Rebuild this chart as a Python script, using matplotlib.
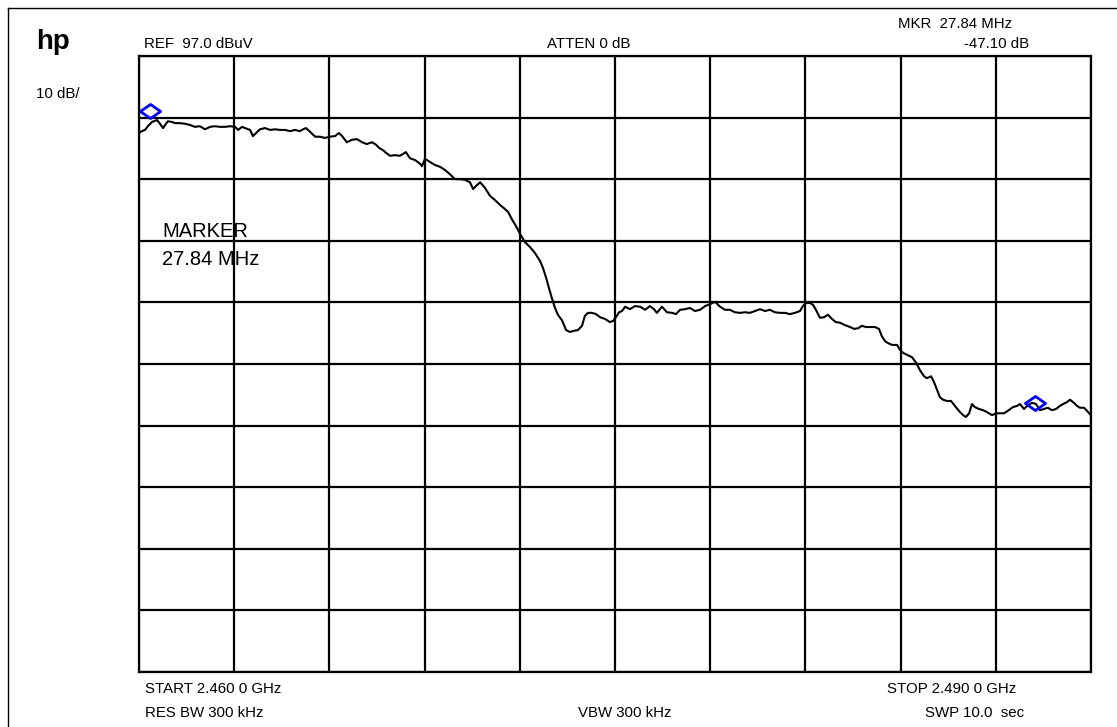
import matplotlib
matplotlib.use("Agg")
import matplotlib.pyplot as plt
from matplotlib.path import Path
from matplotlib.lines import Line2D

# ---- data ----
start_ghz = 2.460
stop_ghz = 2.490
ref_level = 97.0          # dBuV (top of screen)
db_per_div = 10.0

# frequency offset from START (MHz) and trace level (dBuV)
freq_offset_mhz = [
    0.00, 0.09, 0.19, 0.28, 0.41, 0.57, 0.66, 0.76, 0.85, 0.91, 1.04, 1.13, 1.29, 1.45,
    1.61, 1.76, 1.92, 2.08, 2.24, 2.39, 2.55, 2.71, 2.87, 3.03, 3.12, 3.25, 3.34, 3.50,
    3.59, 3.69, 3.81, 3.97, 4.13, 4.29, 4.44, 4.60, 4.76, 4.92, 5.07, 5.17, 5.26, 5.39,
    5.55, 5.70, 5.86, 6.02, 6.18, 6.30, 6.40, 6.55, 6.71, 6.87, 7.03, 7.18, 7.34, 7.47,
    7.56, 7.69, 7.78, 7.91, 8.07, 8.22, 8.32, 8.41, 8.54, 8.70, 8.86, 8.92, 9.01, 9.17,
    9.33, 9.49, 9.64, 9.80, 9.96, 10.12, 10.27, 10.43, 10.53, 10.62, 10.75, 10.90, 11.06,
    11.22, 11.38, 11.50, 11.63, 11.75, 11.88, 12.01, 12.16, 12.32, 12.48, 12.64, 12.73,
    12.83, 12.92, 13.01, 13.11, 13.20, 13.33, 13.46, 13.58, 13.71, 13.83, 13.96, 14.05,
    14.15, 14.28, 14.40, 14.53, 14.69, 14.84, 14.94, 15.03, 15.13, 15.22, 15.32, 15.47,
    15.63, 15.79, 15.95, 16.10, 16.23, 16.32, 16.48, 16.64, 16.80, 16.92, 17.05, 17.21,
    17.36, 17.52, 17.68, 17.84, 17.99, 18.15, 18.31, 18.47, 18.62, 18.78, 18.94, 19.10,
    19.25, 19.41, 19.57, 19.73, 19.88, 20.04, 20.20, 20.36, 20.51, 20.67, 20.83, 20.92,
    21.02, 21.15, 21.24, 21.33, 21.46, 21.59, 21.71, 21.84, 21.96, 22.09, 22.25, 22.41,
    22.53, 22.66, 22.78, 22.91, 23.04, 23.19, 23.32, 23.41, 23.51, 23.60, 23.73, 23.89,
    23.98, 24.08, 24.20, 24.36, 24.49, 24.61, 24.74, 24.83, 24.96, 25.05, 25.15, 25.24,
    25.34, 25.46, 25.59, 25.71, 25.87, 25.97, 26.06, 26.16, 26.25, 26.34, 26.47, 26.60,
    26.72, 26.88, 27.01, 27.13, 27.26, 27.38, 27.54, 27.67, 27.76, 27.89, 28.01, 28.14,
    28.27, 28.39, 28.52, 28.64, 28.77, 28.90, 29.02, 29.12, 29.24, 29.34, 29.46, 29.56,
    29.65, 29.78, 29.91, 30.00,
]
level_dbuv = [
    84.5, 84.8, 85.0, 85.6, 86.3, 86.6, 86.0, 85.3, 86.0, 86.4, 86.3, 86.1, 86.1, 86.0,
    85.8, 85.5, 85.6, 85.1, 85.5, 85.6, 85.5, 85.5, 85.6, 85.5, 85.0, 85.5, 85.3, 85.0,
    84.0, 84.5, 85.1, 85.3, 85.0, 85.1, 85.0, 85.0, 84.8, 85.0, 84.8, 85.1, 85.3, 84.7,
    83.9, 83.9, 83.7, 83.9, 84.0, 84.5, 84.0, 83.0, 83.4, 83.5, 83.0, 82.7, 83.0, 82.6,
    82.1, 81.7, 81.3, 80.8, 80.9, 80.8, 81.1, 81.4, 80.4, 80.1, 79.5, 79.1, 80.3, 79.8,
    79.3, 79.0, 78.5, 77.8, 77.0, 77.0, 76.9, 76.5, 75.4, 75.9, 76.5, 75.6, 74.3,
    73.6, 72.8, 72.3, 71.7, 70.5, 69.4, 68.1, 66.8, 66.0, 65.0, 63.7, 62.6,
    61.0, 59.3, 57.7, 56.1, 55.0, 54.1, 52.5, 52.2, 52.4, 52.5, 53.2, 54.8,
    55.3, 55.3, 55.1, 54.6, 54.3, 53.8, 54.0, 54.6, 55.4, 55.6, 56.3, 55.9,
    56.4, 56.3, 55.8, 56.4, 55.9, 55.3, 56.3, 55.4, 55.3, 55.1, 55.8, 55.9,
    56.1, 55.6, 55.8, 56.4, 56.7, 57.1, 56.3, 55.8, 55.8, 55.4, 55.3, 55.4,
    55.3, 55.6, 55.9, 55.6, 55.8, 55.4, 55.3, 55.3, 55.1, 55.3, 55.6, 56.4,
    56.9, 56.9, 56.6, 55.8, 54.5, 54.6, 55.0, 54.3, 53.8, 53.7, 53.3, 53.0,
    52.7, 52.8, 53.2, 53.0, 53.0, 53.0, 52.7, 51.5, 50.7, 50.4, 50.1, 50.1,
    49.3, 48.8, 48.5, 48.1, 47.2, 46.0, 45.0, 44.7, 45.0, 44.1, 42.8, 41.6,
    41.2, 41.0, 41.0, 40.2, 39.2, 38.7, 38.4, 39.0, 40.5, 40.0, 39.7, 39.5,
    39.2, 38.7, 39.0, 39.0, 39.0, 39.4, 40.0, 40.2, 40.5, 39.7, 40.3, 40.7,
    40.5, 39.5, 39.7, 39.9, 39.5, 39.7, 40.2, 40.5, 40.8, 41.2, 40.7, 40.2,
    39.9, 39.9, 39.2, 38.7,
]

# marker positions (offset MHz, dBuV)
marker_offset_mhz = [0.36, 28.24]
marker_level_dbuv = [88.0, 40.6]

# annotation texts
hdr_ref = "REF  97.0 dBuV"
hdr_atten = "ATTEN 0 dB"
hdr_mkr = "MKR  27.84 MHz"
hdr_mkr_db = "-47.10 dB"
scale_txt = "10 dB/"
start_txt = "START 2.460 0 GHz"
stop_txt = "STOP 2.490 0 GHz"
rbw_txt = "RES BW 300 kHz"
vbw_txt = "VBW 300 kHz"
swp_txt = "SWP 10.0  sec"
marker_lbl = ["MARKER", "27.84 MHz"]

# ---- figure ----
W, H = 1117, 727
plt.rcParams['font.family'] = ['Liberation Sans', 'DejaVu Sans']
fig = plt.figure(figsize=(W / 100, H / 100), dpi=100)
fig.patch.set_facecolor("white")

L, R, T, B = 139, 1091, 56, 672
ax = fig.add_axes([L / W, 1 - B / H, (R - L) / W, (B - T) / H])

span_mhz = (stop_ghz - start_ghz) * 1000
ax.set_xlim(0, span_mhz)
ax.set_ylim(ref_level - 10 * db_per_div, ref_level)
ax.set_xticks([span_mhz / 10 * i for i in range(11)])
ax.set_yticks([ref_level - db_per_div * i for i in range(11)])
ax.grid(True, color="black", linewidth=1.6)
ax.tick_params(length=0, labelbottom=False, labelleft=False)
for s in ax.spines.values():
    s.set_linewidth(1.6)
    s.set_color("black")

ax.plot(freq_offset_mhz, level_dbuv, color="black", linewidth=1.5, zorder=3)

diamond = Path([(-1, 0), (0, 0.7), (1, 0), (0, -0.7), (-1, 0)],
               [Path.MOVETO, Path.LINETO, Path.LINETO, Path.LINETO, Path.CLOSEPOLY])
ax.plot(marker_offset_mhz, marker_level_dbuv, linestyle="none", marker=diamond,
        markersize=14.5, markerfacecolor="none", markeredgecolor="#0000ff",
        markeredgewidth=2.0, zorder=4, clip_on=False)

def ftext(x, y, s, **kw):
    fig.text(x / W, 1 - y / H, s, va="baseline", **kw)

fs = 10.8
ftext(36, 49, "hp", fontsize=20, fontweight="bold")
ftext(36, 98, scale_txt, fontsize=fs)
ftext(144, 48, hdr_ref, fontsize=fs)
ftext(547, 48, hdr_atten, fontsize=fs)
ftext(898, 28, hdr_mkr, fontsize=fs)
ftext(1029, 48, hdr_mkr_db, fontsize=fs, ha="right")
ftext(145, 693, start_txt, fontsize=fs)
ftext(887, 693, stop_txt, fontsize=fs)
ftext(145, 717, rbw_txt, fontsize=fs)
ftext(578, 717, vbw_txt, fontsize=fs)
ftext(925, 717, swp_txt, fontsize=fs)
ftext(162, 237, marker_lbl[0], fontsize=14.5)
ftext(162, 265, marker_lbl[1], fontsize=14.5)

# outer frame (left and top edges)
fig.add_artist(Line2D([8 / W, 8 / W], [0, 1 - 8 / H], color="black", linewidth=1.0))
fig.add_artist(Line2D([8 / W, 1], [1 - 8 / H, 1 - 8 / H], color="black", linewidth=1.0))

fig.savefig("out.png", dpi=100, facecolor="white")
